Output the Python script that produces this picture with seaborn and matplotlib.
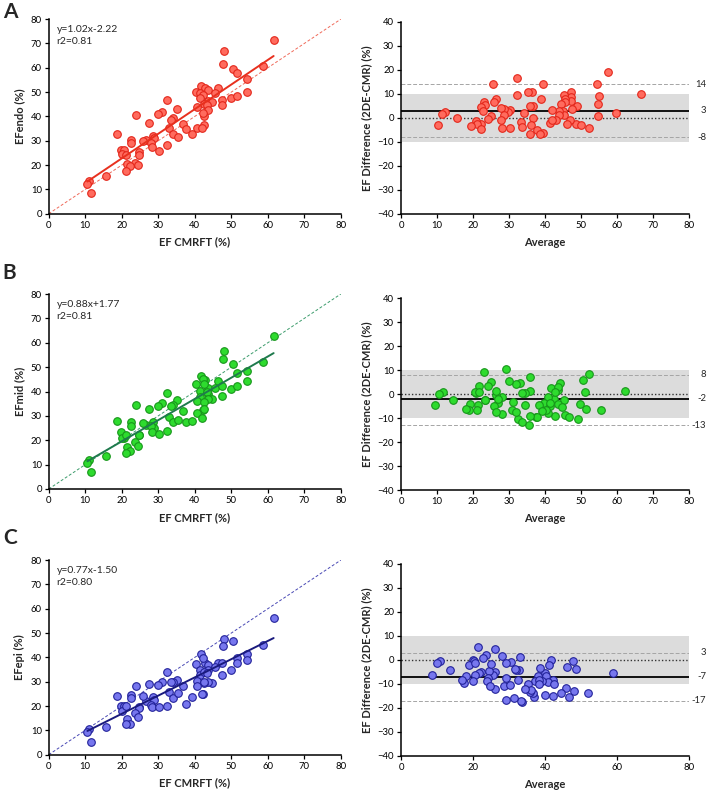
import numpy as np
import pandas as pd
import matplotlib
matplotlib.use('Agg')
import matplotlib.pyplot as plt
import seaborn as sns

# EF by CMR feature tracking (x of the left panels)
cmr = [61.6, 48.1, 47.6, 58.8, 50.6, 51.7, 54.4, 46.5, 41.8, 42.8, 43.7, 40.4,
       41.5, 45.6, 42.2, 41.5, 49.8, 51.5, 54.4, 47.4, 47.4, 43.7, 44.6, 42.4,
       43.3, 40.5, 43.5, 42.5, 42.2, 32.5, 35.1, 30.9, 29.8, 23.9, 34.1, 33.4,
       27.5, 36.7, 42.5, 33.0, 37.6, 40.5, 41.9, 34.1, 35.5, 39.3, 18.6, 28.5,
       28.7, 22.5, 26.7, 25.8, 22.5, 27.9, 28.2, 32.3, 19.9, 20.6, 24.6, 30.2,
       20.1, 21.2, 24.6, 23.7, 21.4, 22.3, 24.5, 21.2, 15.7, 11.1, 10.6, 11.7]

ef_endo = [71.6, 67.1, 61.6, 60.7, 59.6, 57.7, 55.2, 51.5, 52.6, 51.5, 50.8, 50.1,
           49.5, 49.5, 48.8, 47.4, 47.4, 48.4, 50.1, 46.7, 44.9, 46.4, 45.8, 45.3,
           44.7, 43.7, 42.6, 40.3, 41.5, 46.7, 42.9, 41.9, 40.8, 40.5, 39.2, 38.5,
           37.1, 36.7, 36.4, 35.1, 34.7, 35.3, 35.1, 32.6, 31.6, 32.6, 32.6, 31.9,
           31.0, 30.5, 30.5, 30.0, 29.2, 29.2, 27.5, 28.2, 26.4, 26.2, 25.5, 25.9,
           24.5, 24.1, 24.0, 21.0, 20.3, 19.7, 20.1, 17.7, 15.6, 13.6, 12.1, 8.6]

ef_mid = [62.9, 56.6, 53.5, 52.1, 51.4, 47.6, 48.3, 44.2, 46.5, 44.6, 41.5, 43.1,
          40.4, 41.5, 45.1, 37.8, 41.2, 42.1, 44.2, 42.1, 38.3, 38.9, 36.9, 43.2,
          39.7, 36.1, 36.9, 35.6, 32.6, 39.4, 36.4, 35.3, 33.9, 34.3, 34.6, 33.9,
          32.8, 32.1, 33.0, 29.5, 27.4, 31.2, 29.1, 27.4, 28.2, 27.8, 27.8, 27.4,
          25.0, 27.5, 26.1, 27.1, 25.7, 26.0, 23.3, 23.9, 23.3, 20.9, 22.0, 22.6,
          20.9, 22.0, 22.0, 19.2, 17.1, 15.5, 17.8, 14.8, 13.4, 12.0, 10.7, 7.1]

ef_epi = [56.3, 47.7, 44.8, 45.1, 46.7, 39.9, 41.6, 37.9, 41.6, 37.5, 36.8, 37.1,
          34.8, 36.2, 39.9, 32.7, 34.8, 37.5, 38.9, 37.5, 32.7, 34.8, 29.3, 34.1,
          33.4, 30.3, 29.7, 29.3, 24.8, 33.8, 30.7, 30.0, 28.6, 28.2, 30.0, 29.7,
          28.9, 28.1, 30.0, 25.6, 21.0, 28.2, 24.8, 23.4, 25.2, 23.6, 24.1, 23.6,
          22.5, 24.5, 22.2, 24.1, 23.2, 20.4, 19.5, 20.0, 20.0, 20.0, 19.7, 19.5,
          17.9, 20.0, 19.0, 17.3, 14.5, 12.6, 15.6, 12.6, 11.5, 10.5, 9.2, 5.3]

letters = ['A', 'B', 'C']
ylabels = ['EFendo (%)', 'EFmid (%)', 'EFepi (%)']
equations = ['y=1.02x-2.22\nr2=0.81', 'y=0.88x+1.77\nr2=0.81', 'y=0.77x-1.50\nr2=0.80']
bias = [3, -2, -7]
upper = [14, 8, 3]
lower = [-8, -13, -17]
ba_xstep = [10, 10, 20]

fills = ['#FF6B5E', '#2EDB2E', '#7777EE']
edges = ['#E3261A', '#17961A', '#22229A']
fitcol = ['#E8301E', '#1F7A4D', '#1A1A7E']
idcol = ['#F06A5A', '#3C9C6C', '#4848B4']

sns.set_theme(style='ticks')
plt.rcParams['font.family'] = ['Lato', 'DejaVu Sans']

fig = plt.figure(figsize=(7.09, 7.91), dpi=100)
left_pos = [[0.0687, 0.7298, 0.412, 0.246],
            [0.0687, 0.3818, 0.412, 0.2465],
            [0.0687, 0.0459, 0.412, 0.246]]
right_pos = [[0.5656, 0.7295, 0.406, 0.2427],
             [0.5656, 0.3805, 0.406, 0.2427],
             [0.5656, 0.0443, 0.406, 0.2431]]
letter_y = [0.997, 0.668, 0.332]

def style_axes(ax):
    for s in ['top', 'right']:
        ax.spines[s].set_visible(False)
    for s in ['left', 'bottom']:
        ax.spines[s].set_color('black')
        ax.spines[s].set_linewidth(1.1)
    ax.tick_params(direction='out', length=3, width=0.9, labelsize=6.8,
                   colors='black', pad=2)

for i, ys in enumerate([ef_endo, ef_mid, ef_epi]):
    df = pd.DataFrame({'cmr': cmr, 'ef': ys})

    ax = fig.add_axes(left_pos[i])
    ax.plot([0, 80], [0, 80], ls=(0, (3, 2)), lw=0.7, color=idcol[i], zorder=1)
    sns.scatterplot(data=df, x='cmr', y='ef', ax=ax, s=30, color=fills[i],
                    edgecolor=edges[i], linewidth=0.8, zorder=3, legend=False)
    sns.regplot(data=df, x='cmr', y='ef', ax=ax, scatter=False, ci=None,
                truncate=True, line_kws=dict(color=fitcol[i], lw=1.4, zorder=4))
    ax.set_xlim(0, 80)
    ax.set_ylim(0, 80)
    ax.set_xticks(range(0, 81, 10))
    ax.set_yticks(range(0, 81, 10))
    style_axes(ax)
    ax.set_xlabel('EF CMRFT (%)', fontsize=8, fontweight='bold', labelpad=5)
    ax.set_ylabel(ylabels[i], fontsize=8, fontweight='bold', labelpad=4)
    ax.text(2.2, 77.5, equations[i], fontsize=7.5, va='top', ha='left',
            linespacing=1.45)
    fig.text(0.004, letter_y[i], letters[i], fontsize=15, fontweight='bold',
             va='top', ha='left')

    ba = pd.DataFrame({'avg': (df['cmr'] + df['ef']) / 2,
                       'diff': df['ef'] - df['cmr']})
    ax2 = fig.add_axes(right_pos[i])
    ax2.axhspan(-10, 10, color='#DCDCDC', lw=0, zorder=0)
    ax2.axhline(upper[i], color='#A5A5A5', ls=(0, (4, 2)), lw=0.7, zorder=1)
    ax2.axhline(lower[i], color='#A5A5A5', ls=(0, (4, 2)), lw=0.7, zorder=1)
    ax2.axhline(0, color='#333333', ls=(0, (1, 1.5)), lw=1.0, zorder=1)
    ax2.axhline(bias[i], color='black', lw=1.3, zorder=2)
    sns.scatterplot(data=ba, x='avg', y='diff', ax=ax2, s=30, color=fills[i],
                    edgecolor=edges[i], linewidth=0.8, zorder=3, legend=False)
    ax2.set_xlim(0, 80)
    ax2.set_ylim(-40, 40)
    ax2.set_xticks(range(0, 81, ba_xstep[i]))
    ax2.set_yticks(range(-40, 41, 10))
    style_axes(ax2)
    ax2.set_xlabel('Average', fontsize=8, fontweight='bold', labelpad=5)
    ax2.set_ylabel('EF Difference (2DE-CMR) (%)', fontsize=8,
                   fontweight='bold', labelpad=4)
    for v in [upper[i], bias[i], lower[i]]:
        ax2.text(84.8, v, str(v), fontsize=6.8, ha='right', va='center',
                 clip_on=False)

fig.savefig('out.png', dpi=100)
